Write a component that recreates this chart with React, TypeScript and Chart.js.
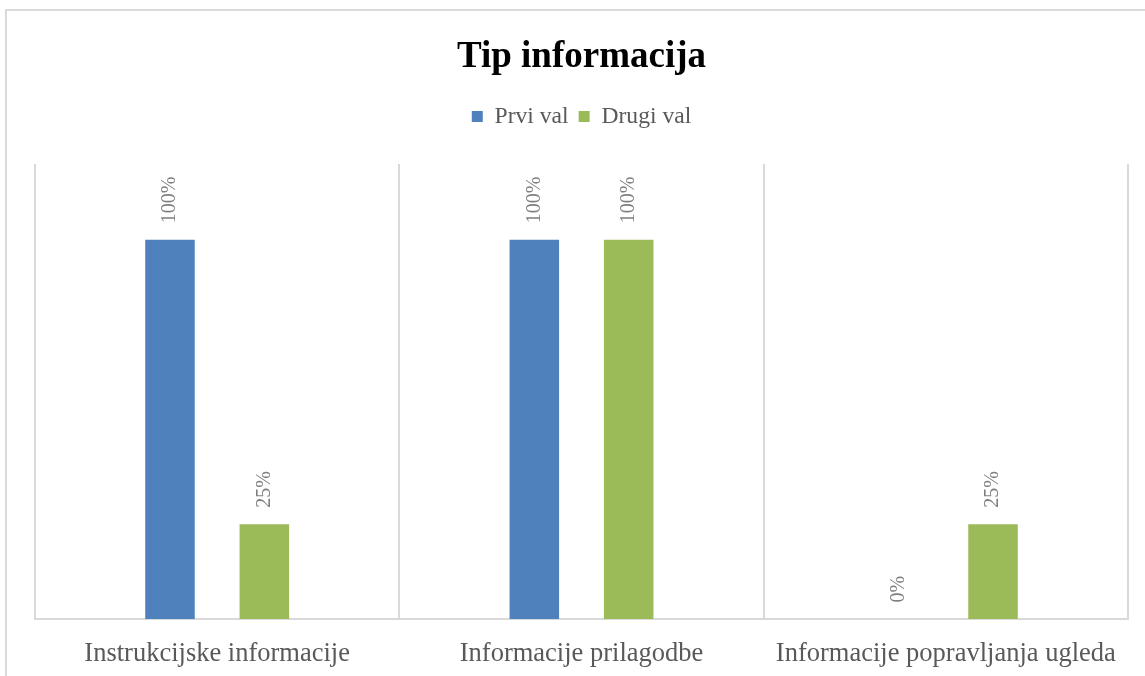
import React, { useEffect, useRef } from "react";
import { Chart, registerables } from "chart.js";

Chart.register(...registerables);

const categories = [
  "Instrukcijske informacije",
  "Informacije prilagodbe",
  "Informacije popravljanja ugleda",
];
const seriesNames = ["Prvi val", "Drugi val"];
const prviVal = [100, 100, 0];
const drugiVal = [25, 100, 25];
const seriesColors = ["#4f81bd", "#9bbb59"];
const chartTitle = "Tip informacija";

const FONT = "'Liberation Serif', 'Times New Roman', serif";

const rotatedLabels = {
  id: "rotatedLabels",
  afterDatasetsDraw(chart: any) {
    const ctx = chart.ctx;
    ctx.save();
    ctx.font = `20px ${FONT}`;
    ctx.fillStyle = "#7f7f7f";
    ctx.textAlign = "left";
    ctx.textBaseline = "middle";
    chart.data.datasets.forEach((ds: any, di: number) => {
      const meta = chart.getDatasetMeta(di);
      meta.data.forEach((el: any, i: number) => {
        const v = ds.data[i];
        ctx.save();
        ctx.translate(el.x, el.y - 16.5);
        ctx.rotate(-Math.PI / 2);
        ctx.fillText(`${v}%`, 0, 0);
        ctx.restore();
      });
    });
    ctx.restore();
  },
};

export default function App() {
  const ref = useRef<HTMLCanvasElement>(null);
  useEffect(() => {
    if (!ref.current) return;
    const chart = new Chart(ref.current, {
      type: "bar",
      data: {
        labels: categories,
        datasets: [
          {
            label: seriesNames[0],
            data: prviVal,
            backgroundColor: seriesColors[0],
            xAxisID: "x",
            yAxisID: "y",
            categoryPercentage: 0.518,
            barPercentage: 0.525,
          },
          {
            label: seriesNames[1],
            data: drugiVal,
            backgroundColor: seriesColors[1],
            xAxisID: "x",
            yAxisID: "y",
            categoryPercentage: 0.518,
            barPercentage: 0.525,
          },
        ],
      },
      options: {
        responsive: false,
        animation: false,
        events: [],
        layout: { padding: { left: 29, right: 33, top: 0, bottom: 6.2 } },
        plugins: {
          title: {
            display: true,
            text: chartTitle,
            color: "#000",
            font: { family: FONT, size: 37, weight: "bold" },
            padding: { top: 25.3, bottom: 15 },
          },
          legend: {
            display: true,
            position: "top",
            labels: {
              boxWidth: 11,
              boxHeight: 11,
              color: "#595959",
              font: { family: FONT, size: 23.6 },
              padding: 10,
            },
          },
          tooltip: { enabled: false },
        },
        scales: {
          x: {
            type: "category",
            position: "bottom",
            grid: {
              display: true,
              offset: true,
              drawTicks: false,
              color: "#d9d9d9",
              lineWidth: 2,
            },
            border: { display: true, color: "#d9d9d9", width: 2 },
            ticks: {
              color: "#595959",
              font: { family: FONT, size: 26.5 },
              padding: 19,
              maxRotation: 0,
              autoSkip: false,
            },
          },
          pad: {
            type: "linear",
            position: "top",
            axis: "x",
            display: true,
            grid: { display: false },
            border: { display: false },
            ticks: { display: false },
            afterFit: (s: any) => {
              s.height = 25.7;
            },
          },
          y: {
            type: "linear",
            display: false,
            min: 0,
            max: 120,
          },
        },
      } as any,
      plugins: [rotatedLabels],
    });
    return () => chart.destroy();
  }, []);

  return (
    <div
      style={{
        position: "fixed",
        left: 0,
        top: 0,
        width: "100vw",
        height: "100vh",
        overflow: "hidden",
        background: "#fff",
      }}
    >
      <div
        style={{
          position: "absolute",
          left: 5,
          top: 9,
          width: 1200,
          height: 720,
          border: "2px solid #d9d9d9",
          boxSizing: "border-box",
        }}
      />
      <canvas
        ref={ref}
        width={1155}
        height={685}
        style={{ position: "absolute", left: 6, top: 10, width: 1155, height: 685 }}
      />
    </div>
  );
}
